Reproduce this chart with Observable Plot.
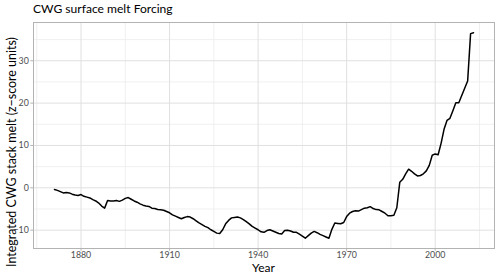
<!DOCTYPE html>
<html><head><meta charset="utf-8">
<script src="https://cdn.jsdelivr.net/npm/d3@7"></script>
<script src="https://cdn.jsdelivr.net/npm/@observablehq/plot@0.6"></script>
<style>
html,body{margin:0;padding:0;background:#fff;}
#wrap{position:relative;width:500px;height:275px;font-family:Lato,"Open Sans",sans-serif;overflow:hidden;}
#chart svg{display:block;}
#title{position:absolute;left:33px;top:2px;font-size:14px;line-height:1.2;color:#000;white-space:nowrap;}
#ylab{position:absolute;left:11.5px;top:152px;transform:translate(-50%,-50%) rotate(-90deg);font-size:12.5px;line-height:1;white-space:nowrap;color:#000;}
#xlab{position:absolute;left:263.5px;top:268px;transform:translate(-50%,-50%);font-size:12px;line-height:1;color:#000;white-space:nowrap;}
g[aria-label="x-axis tick"], g[aria-label="y-axis tick"]{stroke:#b3b3b3;}
g[aria-label="x-axis"] .tick line, g[aria-label="y-axis"] .tick line{stroke:#b3b3b3;}
</style></head>
<body>
<div id="wrap"><div id="chart"></div>
<div id="title">CWG surface melt Forcing</div>
<div id="ylab">Integrated CWG stack melt (z−score units)</div>
<div id="xlab">Year</div>
</div>
<script>
const years = [1871,1872,1873,1874,1875,1876,1877,1878,1879,1880,
1881,1882,1883,1884,1885,1886,1887,1888,1889,1890,
1891,1892,1893,1894,1895,1896,1897,1898,1899,1900,
1901,1902,1903,1904,1905,1906,1907,1908,1909,1910,
1911,1912,1913,1914,1915,1916,1917,1918,1919,1920,
1921,1922,1923,1924,1925,1926,1927,1928,1929,1930,
1931,1932,1933,1934,1935,1936,1937,1938,1939,1940,
1941,1942,1943,1944,1945,1946,1947,1948,1949,1950,
1951,1952,1953,1954,1955,1956,1957,1958,1959,1960,
1961,1962,1963,1964,1965,1966,1967,1968,1969,1970,
1971,1972,1973,1974,1975,1976,1977,1978,1979,1980,
1981,1982,1983,1984,1985,1986,1987,1988,1989,1990,
1991,1992,1993,1994,1995,1996,1997,1998,1999,2000,
2001,2002,2003,2004,2005,2006,2007,2008,2009,2010,
2011,2012,2013];
const melt = [-0.4,-0.6,-0.9,-1.2,-1.1,-1.2,-1.5,-1.7,-1.8,-1.6,
-2.0,-2.2,-2.4,-2.8,-3.1,-3.6,-4.3,-4.8,-3.0,-3.1,
-3.1,-3.0,-3.2,-2.9,-2.5,-2.3,-2.7,-3.1,-3.4,-3.8,
-4.1,-4.3,-4.4,-4.8,-4.9,-5.1,-5.2,-5.3,-5.6,-5.9,
-6.4,-6.7,-7.0,-7.3,-7.0,-6.8,-6.9,-7.3,-7.8,-8.3,
-8.7,-9.1,-9.4,-9.9,-10.3,-10.7,-10.8,-9.9,-8.5,-7.7,
-7.1,-7.0,-6.9,-7.1,-7.5,-8.0,-8.5,-9.1,-9.5,-9.9,
-10.4,-10.5,-10.1,-9.9,-10.2,-10.5,-10.8,-10.9,-10.1,-10.0,
-10.2,-10.5,-10.5,-10.95,-11.4,-11.9,-11.3,-10.7,-10.3,-10.6,
-11.0,-11.3,-11.6,-11.9,-9.8,-8.3,-8.4,-8.5,-8.2,-6.8,
-6.0,-5.6,-5.4,-5.5,-5.15,-4.8,-4.7,-4.45,-4.9,-5.15,
-5.2,-5.6,-6.0,-6.6,-6.6,-6.5,-4.7,1.3,2.0,3.3,
4.4,3.9,3.3,2.8,2.9,3.3,4.0,5.3,7.7,8.0,
7.8,10.5,13.8,15.9,16.4,18.2,20.1,20.1,21.8,23.5,
25.2,36.4,36.6];
const xMajor = [1880,1910,1940,1970,2000];
const xMinor = [1865,1895,1925,1955,1985,2015];
const yMajor = [-10,0,10,20,30];
const yMinor = [-5,5,15,25,35];

const data = years.map((yr,i)=>({year:yr, melt:melt[i]}));

const chart = Plot.plot({
  width:500, height:275,
  marginLeft:33, marginRight:6, marginTop:22, marginBottom:27,
  style:{fontFamily:"Lato, 'Open Sans', sans-serif", fontSize:"8.8px", color:"#4d4d4d", background:"transparent"},
  x:{domain:[1863.9,2020.1], ticks:xMajor, tickFormat:d=>String(d), tickSize:2.7, tickPadding:0.5, label:null},
  y:{domain:[-14.33,39.03], ticks:yMajor, tickSize:2.7, tickPadding:2, label:null},
  marks:[
    Plot.ruleX(xMinor,{stroke:"#ececec", strokeWidth:0.8}),
    Plot.ruleY(yMinor,{stroke:"#ececec", strokeWidth:0.8}),
    Plot.ruleX(xMajor,{stroke:"#e0e0e0", strokeWidth:1}),
    Plot.ruleY(yMajor,{stroke:"#e0e0e0", strokeWidth:1}),
    Plot.line(data,{x:"year", y:"melt", stroke:"#000", strokeWidth:1.5}),
    Plot.frame({stroke:"#b3b3b3", strokeWidth:1})
  ]
});
document.getElementById("chart").appendChild(chart);

function fit(id, target){
  const el = document.getElementById(id);
  const w = el.offsetWidth;
  const fs = parseFloat(getComputedStyle(el).fontSize);
  if (w > 0) el.style.fontSize = (fs * target / w) + "px";
}
fit("title", 140);
fit("ylab", 230);
</script>
</body></html>
